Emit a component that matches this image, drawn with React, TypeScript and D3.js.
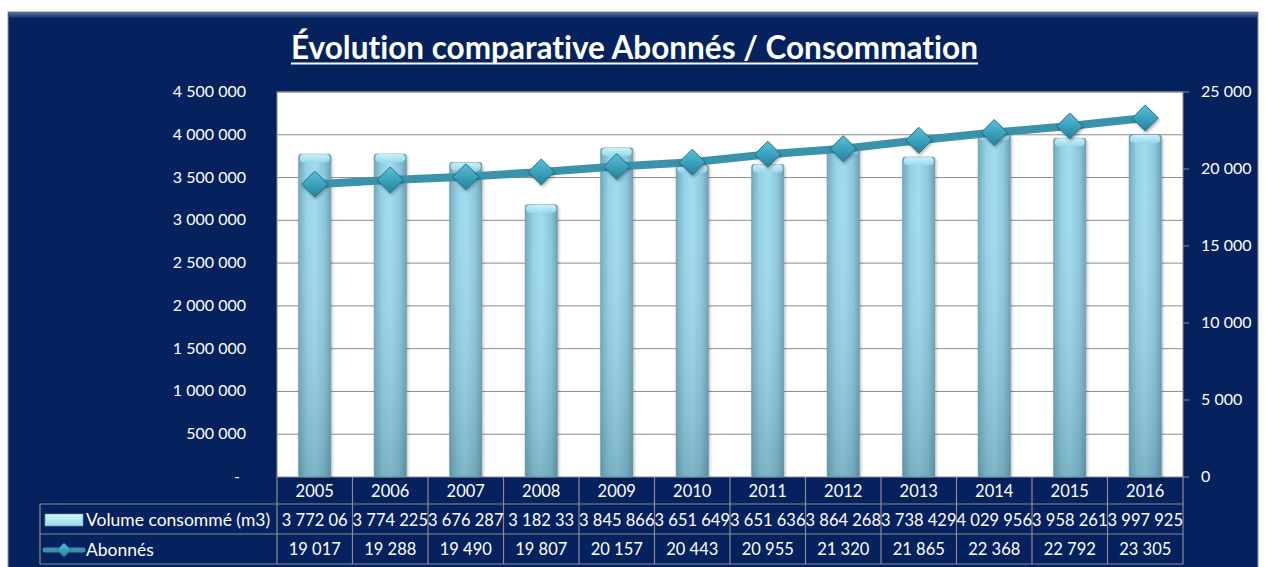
import React from "react";
import * as d3 from "d3";

const years = ["2005","2006","2007","2008","2009","2010","2011","2012","2013","2014","2015","2016"];
const volume = [3772060, 3774225, 3676287, 3182330, 3845866, 3651649, 3651636, 3864268, 3738429, 4029956, 3958261, 3997925];
const volumeLabels = ["3 772 06","3 774 225","3 676 287","3 182 33","3 845 866","3 651 649","3 651 636","3 864 268","3 738 429","4 029 956","3 958 261","3 997 925"];
const abonnes = [19017, 19288, 19490, 19807, 20157, 20443, 20955, 21320, 21865, 22368, 22792, 23305];
const leftTicks = [0, 500000, 1000000, 1500000, 2000000, 2500000, 3000000, 3500000, 4000000, 4500000];
const rightTicks = [0, 5000, 10000, 15000, 20000, 25000];

const FONT = "Lato, 'Open Sans', sans-serif";
const fmt = (v: number) => (v === 0 ? "-" : d3.format(",")(v).replace(/,/g, " "));
const fmtR = (v: number) => d3.format(",")(v).replace(/,/g, " ");

export default function App() {
  const W = 1266, H = 567;
  const pL = 277, pR = 1183, pT = 92, pB = 477;
  const x = d3.scaleBand<string>().domain(years).range([pL, pR]);
  const yL = d3.scaleLinear().domain([0, 4500000]).range([pB, pT]);
  const yR = d3.scaleLinear().domain([0, 25000]).range([pB, pT]);
  const bw = 32;
  const rowY = [pB, 504, 534, 564];
  const tableLeft = 40;
  const grid = "#8c8c8c";
  const cx = (y: string) => (x(y) as number) + x.bandwidth() / 2;
  const linePath = d3.line<number>().x((_, i) => cx(years[i])).y((d) => yR(d))(abonnes) as string;
  const diamond = (s: number) => `M0,${-s} L${s},0 L0,${s} L${-s},0 Z`;

  return (
    <svg width={W} height={H} style={{ position: "absolute", left: 0, top: 0, background: "#fff", fontVariantLigatures: "none" }} fontFamily={FONT}>
      <defs>
        <linearGradient id="barH" x1="0" x2="1" y1="0" y2="0">
          <stop offset="0" stopColor="#6fa9bd" />
          <stop offset="0.25" stopColor="#92d1e6" />
          <stop offset="0.5" stopColor="#a0dbee" />
          <stop offset="0.8" stopColor="#88c6dc" />
          <stop offset="1" stopColor="#6a9fb2" />
        </linearGradient>
        <linearGradient id="barV" x1="0" x2="0" y1="0" y2="1">
          <stop offset="0" stopColor="#ffffff" stopOpacity="0" />
          <stop offset="1" stopColor="#3d6f80" stopOpacity="0.35" />
        </linearGradient>
        <linearGradient id="cap" x1="0" x2="0" y1="0" y2="1">
          <stop offset="0" stopColor="#d2f6fc" />
          <stop offset="1" stopColor="#9ad9ec" />
        </linearGradient>
        <linearGradient id="dia" x1="0" x2="0" y1="0" y2="1">
          <stop offset="0" stopColor="#5cc1da" />
          <stop offset="0.5" stopColor="#3aa2bd" />
          <stop offset="1" stopColor="#2a7f99" />
        </linearGradient>
        <linearGradient id="bevelTop" x1="0" x2="0" y1="0" y2="1">
          <stop offset="0" stopColor="#5a74a6" />
          <stop offset="1" stopColor="#05225f" />
        </linearGradient>
        <filter id="sh" x="-30%" y="-30%" width="160%" height="160%">
          <feDropShadow dx="1" dy="2" stdDeviation="1.5" floodColor="#000" floodOpacity="0.3" />
        </filter>
      </defs>

      {/* navy panel */}
      <rect x={8} y={12} width={1250} height={560} fill="#05225f" stroke="#8a96b0" strokeWidth={1} />
      <rect x={9} y={12.5} width={1248} height={6} fill="url(#bevelTop)" />

      {/* title */}
      <text x={634.5} y={59} textAnchor="middle" fill="#fff" fontSize={31.5} fontWeight={700}>
        Évolution comparative Abonnés / Consommation
      </text>
      <rect x={291} y={62.5} width={687} height={2} fill="#fff" />

      {/* plot area */}
      <rect x={pL} y={pT} width={pR - pL} height={pB - pT} fill="#fff" stroke={grid} strokeWidth={1} />
      {leftTicks.filter((t) => t > 0).map((t) => (
        <line key={t} x1={pL} x2={pR} y1={yL(t)} y2={yL(t)} stroke={grid} strokeWidth={1} />
      ))}

      {/* left axis labels */}
      {leftTicks.map((t) => (
        <text key={t} x={t === 0 ? 240 : 246} y={yL(t) + 5} textAnchor="end" fill="#fff" fontSize={16}>
          {fmt(t)}
        </text>
      ))}

      {/* right axis */}
      {rightTicks.map((t) => (
        <g key={t}>
          <line x1={pR} x2={pR + 6} y1={yR(t)} y2={yR(t)} stroke={grid} strokeWidth={1} />
          <text x={1201} y={yR(t) + 5} fill="#fff" fontSize={16}>{fmtR(t)}</text>
        </g>
      ))}

      {/* bars */}
      {volume.map((v, i) => {
        const bx = cx(years[i]) - bw / 2;
        const by = yL(v);
        return (
          <g key={i} filter="url(#sh)">
            <rect x={bx} y={by} width={bw} height={pB - by} fill="url(#barH)" rx={2} stroke="#6f96a6" strokeWidth={0.8} />
            <rect x={bx} y={by} width={bw} height={pB - by} fill="url(#barV)" rx={2} />
            <rect x={bx + 1} y={by} width={bw - 2} height={8} rx={4} fill="url(#cap)" opacity={0.9} />
          </g>
        );
      })}

      {/* line */}
      <path d={linePath} fill="none" stroke="#3a93aa" strokeWidth={8} strokeLinejoin="round" />
      {abonnes.map((v, i) => (
        <path key={i} d={diamond(13)} transform={`translate(${cx(years[i])},${yR(v)})`} fill="url(#dia)" stroke="#22708a" strokeWidth={1} filter="url(#sh)" />
      ))}

      {/* data table */}
      {[rowY[1], rowY[2], rowY[3]].map((yy) => (
        <line key={yy} x1={tableLeft} x2={pR} y1={yy} y2={yy} stroke={grid} strokeWidth={1.2} />
      ))}
      <line x1={tableLeft} x2={tableLeft} y1={rowY[1]} y2={rowY[3]} stroke={grid} strokeWidth={1.2} />
      {years.map((y) => (
        <line key={y} x1={(x(y) as number) + x.bandwidth()} x2={(x(y) as number) + x.bandwidth()} y1={pB} y2={rowY[3]} stroke={grid} strokeWidth={1.2} />
      ))}
      <line x1={pL} x2={pL} y1={pB} y2={rowY[3]} stroke={grid} strokeWidth={1.2} />

      {years.map((y, i) => (
        <g key={y} fill="#fff" fontSize={16.5} textAnchor="middle">
          <text x={cx(y)} y={497}>{y}</text>
          <text x={cx(y)} y={526}>{volumeLabels[i]}</text>
          <text x={cx(y)} y={555}>{fmtR(abonnes[i])}</text>
        </g>
      ))}

      {/* legend keys */}
      <rect x={45} y={514} width={38} height={12} fill="url(#cap)" stroke="#6f96a6" strokeWidth={0.6} />
      <text x={86} y={526} fill="#fff" fontSize={17.5}>Volume consommé (m3)</text>
      <line x1={45} x2={83} y1={550} y2={550} stroke="#3a93aa" strokeWidth={5} strokeLinecap="round" />
      <path d={diamond(7)} transform="translate(64,550)" fill="url(#dia)" stroke="#22708a" strokeWidth={0.8} />
      <text x={86} y={556} fill="#fff" fontSize={17.5}>Abonnés</text>
    </svg>
  );
}
